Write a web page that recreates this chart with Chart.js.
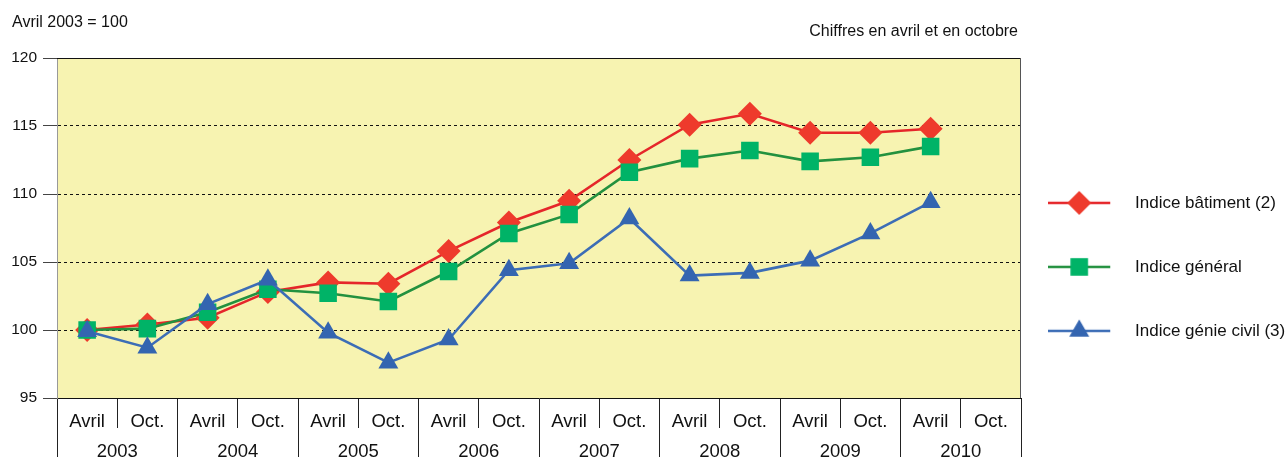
<!DOCTYPE html>
<html>
<head>
<meta charset="utf-8">
<script src="https://cdn.jsdelivr.net/npm/chart.js@4.4.0/dist/chart.umd.min.js"></script>
<style>
  html, body { margin: 0; padding: 0; background: #fff; }
  canvas { display: block; }
</style>
</head>
<body>
<canvas id="chart" width="1288" height="457"></canvas>
<script>
const periods = ['Avril', 'Oct.', 'Avril', 'Oct.', 'Avril', 'Oct.', 'Avril', 'Oct.',
                 'Avril', 'Oct.', 'Avril', 'Oct.', 'Avril', 'Oct.', 'Avril', 'Oct.'];
const years = ['2003', '2004', '2005', '2006', '2007', '2008', '2009', '2010'];

const batiment = [100.0, 100.4, 100.9, 102.8, 103.5, 103.4, 105.8, 107.9, 109.5, 112.5, 115.1, 115.9, 114.5, 114.5, 114.8, null];
const general = [100.0, 100.1, 101.3, 103.0, 102.7, 102.1, 104.3, 107.1, 108.5, 111.6, 112.6, 113.2, 112.4, 112.7, 113.5, null];
const genieCivil = [99.9, 98.7, 101.9, 103.7, 99.8, 97.6, 99.3, 104.4, 104.9, 108.2, 104.0, 104.2, 105.1, 107.1, 109.4, null];

const unitNote = 'Avril 2003 = 100';
const periodNote = 'Chiffres en avril et en octobre';

const FONT = "'Liberation Sans', Arial, sans-serif";

// legend icon: short line with the marker in the middle (left part of a wider transparent image)
function legendIcon(lineColor, fill, shape) {
  const c = document.createElement('canvas');
  c.width = 98;
  c.height = 28;
  const g = c.getContext('2d');
  g.strokeStyle = lineColor;
  g.lineWidth = 2.6;
  g.beginPath();
  g.moveTo(0, 14);
  g.lineTo(62, 14);
  g.stroke();
  g.fillStyle = fill;
  g.beginPath();
  const x = 31, y = 14;
  if (shape === 'rectRot') {
    g.moveTo(x - 12, y); g.lineTo(x, y - 12); g.lineTo(x + 12, y); g.lineTo(x, y + 12);
  } else if (shape === 'rect') {
    g.rect(x - 8.8, y - 8.8, 17.6, 17.6);
  } else {
    g.moveTo(x, y - 11.5); g.lineTo(x + 10, y + 5.8); g.lineTo(x - 10, y + 5.8);
  }
  g.closePath();
  g.fill();
  return c;
}

const icons = [
  legendIcon('#E5262A', '#EE3A2C', 'rectRot'),
  legendIcon('#23913F', '#00B367', 'rect'),
  legendIcon('#3C6DB6', '#3465B0', 'triangle')
];

const frame = {
  id: 'frame',
  beforeDraw(chart) {
    const { ctx, chartArea: a } = chart;
    ctx.save();
    ctx.fillStyle = '#F7F3B1';
    ctx.fillRect(a.left, a.top, a.right - a.left, a.bottom - a.top);
    ctx.fillStyle = '#111';
    ctx.font = '16px ' + FONT;
    ctx.textBaseline = 'middle';
    ctx.fillText(unitNote, 12, 23);
    ctx.textAlign = 'right';
    ctx.fillText(periodNote, a.right - 3, 32);
    ctx.restore();
  },
  beforeDatasetsDraw(chart) {
    const { ctx, chartArea: a } = chart;
    ctx.save();
    ctx.lineWidth = 1;
    ctx.strokeStyle = '#111';
    ctx.beginPath();
    ctx.moveTo(a.left, a.top + 0.5);
    ctx.lineTo(a.right, a.top + 0.5);
    ctx.stroke();
    ctx.strokeStyle = '#555';
    ctx.beginPath();
    ctx.moveTo(a.right - 0.5, a.top);
    ctx.lineTo(a.right - 0.5, a.bottom);
    ctx.stroke();
    ctx.restore();
  }
};

function series(label, data, line, fill, style, radius) {
  return {
    label: label,
    data: data,
    borderColor: line,
    backgroundColor: fill,
    borderWidth: 2.6,
    tension: 0,
    pointStyle: style,
    pointRadius: radius,
    pointHoverRadius: radius,
    pointBackgroundColor: fill,
    pointBorderWidth: 0
  };
}

new Chart(document.getElementById('chart'), {
  type: 'line',
  data: {
    labels: periods,
    datasets: [
      Object.assign(series('Indice bâtiment (2)', batiment, '#E5262A', '#EE3A2C', 'rectRot', 12), { order: 3 }),
      Object.assign(series('Indice général', general, '#23913F', '#00B367', 'rect', 12.4), { order: 2 }),
      Object.assign(series('Indice génie civil (3)', genieCivil, '#3C6DB6', '#3465B0', 'triangle', 11.5), { order: 1 })
    ]
  },
  options: {
    responsive: false,
    animation: false,
    devicePixelRatio: 1,
    layout: { padding: { top: 58, left: 12, right: 1, bottom: 0 } },
    scales: {
      x: {
        type: 'category',
        position: 'bottom',
        offset: true,
        weight: 0,
        grid: {
          offset: true,
          drawOnChartArea: false,
          tickLength: 59,
          tickColor: '#222',
          tickWidth: 1,
          tickBorderDash: (c) => (c.index % 2 ? [29, 100] : [])
        },
        border: { display: true, color: '#111', width: 1 },
        ticks: {
          autoSkip: false,
          maxRotation: 0,
          padding: -46,
          color: '#111',
          font: { family: FONT, size: 18.5 }
        },
        afterFit(scale) { scale.height = 33; }
      },
      years: {
        type: 'category',
        position: 'bottom',
        labels: years,
        offset: true,
        weight: 1,
        grid: { display: false },
        border: { display: false },
        ticks: {
          autoSkip: false,
          maxRotation: 0,
          padding: 1.5,
          color: '#111',
          font: { family: FONT, size: 18.5 }
        },
        afterFit(scale) { scale.height = 26; }
      },
      y: {
        min: 95,
        max: 120,
        grid: {
          color: (c) => (c.tick && (c.tick.value === 95 || c.tick.value === 120) ? 'rgba(0,0,0,0)' : '#111'),
          lineWidth: 1,
          tickLength: 14,
          tickColor: '#444'
        },
        border: { display: true, color: '#999', width: 1, dash: [3, 3] },
        ticks: {
          stepSize: 5,
          padding: 6,
          color: '#111',
          font: { family: FONT, size: 15.5 }
        },
        afterFit(scale) { scale.width = 45; }
      }
    },
    plugins: {
      tooltip: { enabled: false },
      legend: {
        position: 'right',
        align: 'start',
        maxWidth: 266,
        title: { display: true, text: ' ', padding: { top: 75, bottom: 0 } },
        labels: {
          usePointStyle: true,
          pointStyleWidth: 58.5,
          padding: 47,
          color: '#111',
          font: { family: FONT, size: 17 },
          sort: (a, b) => a.datasetIndex - b.datasetIndex,
          generateLabels(chart) {
            const items = Chart.defaults.plugins.legend.labels.generateLabels(chart);
            items.forEach((it) => { it.pointStyle = icons[it.datasetIndex]; });
            return items;
          }
        }
      }
    }
  },
  plugins: [frame]
});
</script>
</body>
</html>
